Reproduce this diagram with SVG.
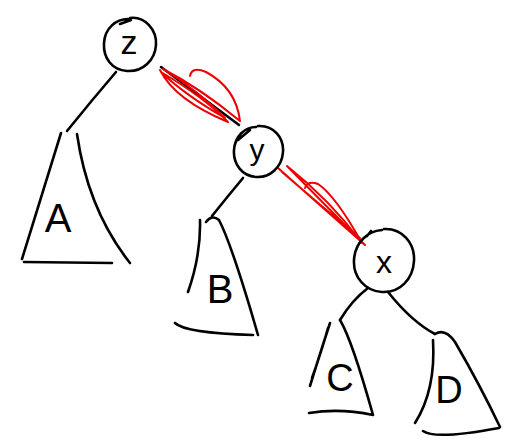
<svg xmlns="http://www.w3.org/2000/svg" width="524" height="444" viewBox="0 0 524 444">
<style>
.s{fill:none;stroke:#000;stroke-width:2.6;stroke-linecap:round;stroke-linejoin:round}
.r{fill:none;stroke:#e00;stroke-width:2;stroke-linecap:round;stroke-linejoin:round}
.t{font-family:"Liberation Sans",Arial,sans-serif;fill:#000;text-anchor:middle}
</style>
<rect width="524" height="444" fill="#fff"/>
<g id="connectors">
<path class="s" d="M116,72 Q92,100 67,131"/>
<path class="s" d="M161,67 L239,125"/>
<path class="r" d="M160,70 Q175,100 228,122 Q205,98 161,72 Q185,95 225,118 Q200,92 163,69 Q200,88 240,121 Q236,88 206,72 Q192,66 190,76"/>
<path class="s" d="M243,178 Q228,196 212,216"/>
<path class="r" d="M278,168 Q320,205 365,245 Q330,210 287,166 Q330,200 362,243 Q335,195 318,184 Q308,180 305,188 M282,172 Q320,205 360,238"/>
<path class="s" d="M368,288 Q352,300 340,320"/>
<path class="s" d="M388,292 Q412,322 435,334"/>
</g>
<g id="z">
<path class="s" d="M130,18 C145,16 157,30 156,45 C155,60 143,72 127,71 C112,70 103,58 104,43 C105,28 116,19 128,19 M120,24 L131,20"/>
<text class="t" x="129" y="54" font-size="34">z</text>
</g>
<g id="y">
<path class="s" d="M258,126 C274,125 284,138 283,152 C282,167 270,178 256,177 C242,176 233,164 234,150 C235,136 245,127 256,127 M238,140 L250,130"/>
<text class="t" x="257" y="160" font-size="30">y</text>
</g>
<g id="x">
<path class="s" d="M384,229 C402,228 415,243 414,261 C413,279 400,293 382,292 C365,291 353,277 354,260 C355,243 367,231 382,230 M367,236 L371,231"/>
<text class="t" x="384" y="273" font-size="32">x</text>
</g>
<g id="A">
<path class="s" d="M61,133 Q42,195 22,259 M77,134 Q88,210 130,263 M24,262 L112,263"/>
<text class="t" x="58" y="232" font-size="40">A</text>
</g>
<g id="B">
<path class="s" d="M200,220 Q201,255 188,292 M206,222 Q212,214 219,220 Q232,245 258,335 M175,323 Q185,333 253,335"/>
<text class="t" x="220" y="303" font-size="40">B</text>
</g>
<g id="C">
<path class="s" d="M330,323 Q318,360 310,386 M328,328 Q322,350 312,378 M340,320 Q352,340 373,415 M309,413 Q340,408 373,415"/>
<text class="t" x="340" y="391" font-size="38">C</text>
</g>
<g id="D">
<path class="s" d="M433,340 Q436,390 415,423 M435,334 Q445,328 455,342 Q480,385 500,427 M423,431 Q435,440 499,428"/>
<text class="t" x="449" y="403" font-size="38">D</text>
</g>
</svg>
